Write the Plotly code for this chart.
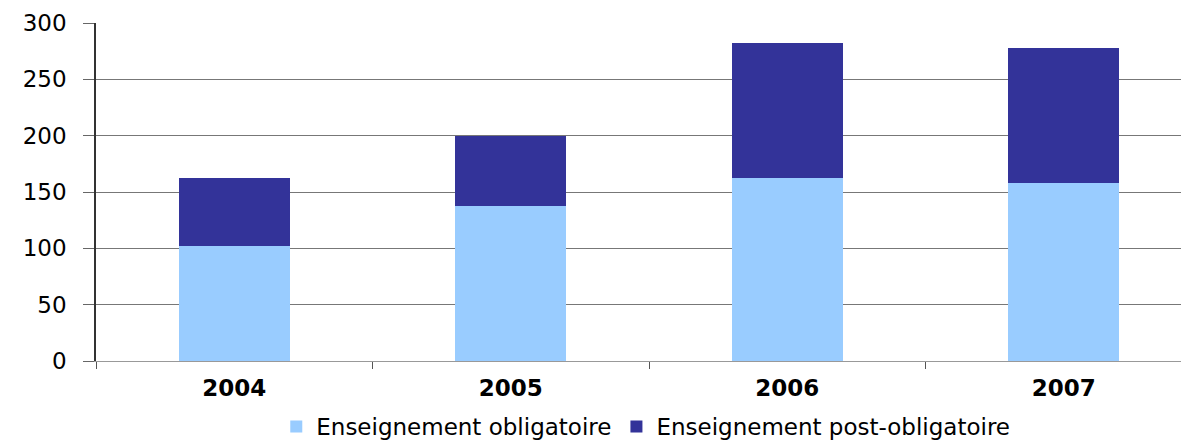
import plotly.graph_objects as go

years = ["2004", "2005", "2006", "2007"]
obligatoire = [102, 138, 162, 158]
post_obligatoire = [60, 62, 120, 120]
y_ticks = [0, 50, 100, 150, 200, 250, 300]

light_blue = "#99ccff"
dark_blue = "#333399"

fig = go.Figure()
fig.add_trace(go.Bar(
    x=years, y=obligatoire, name="Enseignement obligatoire",
    marker=dict(color=light_blue, line=dict(width=0))
))
fig.add_trace(go.Bar(
    x=years, y=post_obligatoire, name="Enseignement post-obligatoire",
    marker=dict(color=dark_blue, line=dict(width=0))
))

# the page body keeps an 8px margin, so the figure is sized to fit the window
fig.update_layout(
    width=1181, height=436,
    barmode="stack", bargap=0.6,
    paper_bgcolor="white", plot_bgcolor="white",
    font=dict(family="DejaVu Sans", color="black", size=20),
    margin=dict(l=88, r=0, t=15, b=83, autoexpand=False),
    showlegend=True,
    legend=dict(
        orientation="h", x=0.503, xanchor="center",
        yref="container", y=0.04, yanchor="middle",
        font=dict(size=23), traceorder="normal",
        itemwidth=30, tracegroupgap=0,
    ),
    xaxis=dict(
        type="category", range=[-0.5, 3.453], automargin=False,
        showline=True, linecolor="#999999", linewidth=1,
        ticks="outside", tickson="boundaries", ticklen=7, tickcolor="#555555",
        tickfont=dict(size=23, family="DejaVu Sans", color="black", weight="bold"),
        ticklabelstandoff=6,
        showgrid=False, fixedrange=True,
    ),
    yaxis=dict(
        range=[0, 300], tickvals=y_ticks, automargin=False,
        showline=True, linecolor="#333333", linewidth=1.5,
        ticks="outside", ticklen=11, tickcolor="#666666",
        tickfont=dict(size=23), ticklabelstandoff=12,
        showgrid=True, gridcolor="#777777", gridwidth=1,
        zeroline=False,
    ),
)

fig.write_html("out.html")
